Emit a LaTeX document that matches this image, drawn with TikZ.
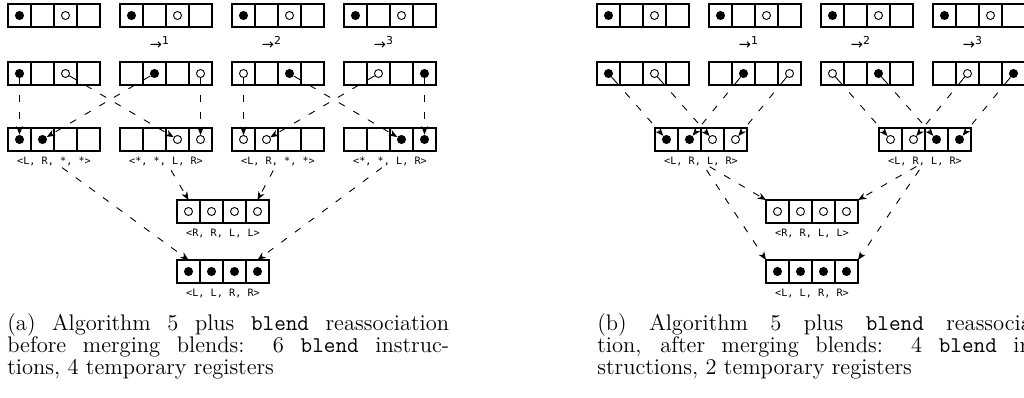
\documentclass[tikz,border=0pt]{standalone}
\usepackage{fontspec}
\usepackage{tikz}
\usetikzlibrary{positioning,arrows.meta}
\newfontfamily\lanefont{DejaVu Sans Mono}
\newfontfamily\shiftfont{DejaVu Sans}

\begin{document}
\begin{tikzpicture}[x=0.55pt,y=-0.55pt]
	\tikzset{cell/.style={draw, rectangle, minimum size=12.65pt, inner sep=0pt, outer sep=0pt, line width=0.6pt},
	         full/.style={circle, fill=black, minimum size=5pt, inner sep=0pt},
	         empty/.style={circle, draw, fill=white, line width=0.5pt, minimum size=4.4pt, inner sep=0pt},
	         move/.style={-{Stealth[length=4.6pt,width=3.6pt,inset=1.4pt]}, line width=0.5pt, dash pattern=on 3.8pt off 5.5pt, dash phase=3.8pt},
	         stem/.style={line width=0.5pt},
	         lane/.style={font=\lanefont\fontsize{5.6}{6}\selectfont, inner sep=1pt},
	         shiftlbl/.style={font=\shiftfont\fontsize{8}{9}\selectfont, inner sep=1pt},
	         caption/.style={anchor=north west, inner sep=0pt, text width=243pt, align=justify}}
	\useasboundingbox (0,0) rectangle (1024,398);
	\clip (0,0) rectangle (1024,398);

	% registers: name/left/top
	\foreach \r/\x/\y in {a1/8/4, a2/120/4, a3/232/4, a4/344/4,
	                      a5/8/62, a6/120/62, a7/232/62, a8/344/62,
	                      a9/8/128, a10/120/128, a11/232/128, a12/344/128,
	                      a13/177/200, a14/177/260,
	                      b1/597/4, b2/709/4, b3/821/4, b4/933/4,
	                      b5/597/62, b6/709/62, b7/821/62, b8/933/62,
	                      b9/655/128, b10/879/128,
	                      b11/766/200, b12/766/260}
	  \foreach \i in {0,...,3}
	    \node[cell] (\r-\i) at (\x+\i*23+11.5, \y+11.5) {};

	% elements
	\foreach \c in {a1-0, a2-0, a3-0, a4-0, a5-0, a6-1, a7-2, a8-3,
	                a9-0, a9-1, a12-2, a12-3, a14-0, a14-1, a14-2, a14-3,
	                b1-0, b2-0, b3-0, b4-0, b5-0, b6-1, b7-2, b8-3,
	                b9-0, b9-1, b10-2, b10-3, b12-0, b12-1, b12-2, b12-3}
	  \node[full] (d\c) at (\c) {};
	\foreach \c in {a1-2, a2-2, a3-2, a4-2, a5-2, a6-3, a7-0, a8-1,
	                a10-2, a10-3, a11-0, a11-1, a13-0, a13-1, a13-2, a13-3,
	                b1-2, b2-2, b3-2, b4-2, b5-2, b6-3, b7-0, b8-1,
	                b9-2, b9-3, b10-0, b10-1, b11-0, b11-1, b11-2, b11-3}
	  \node[empty] (d\c) at (\c) {};

	% shift amounts
	\foreach \r/\k in {a2/1, a3/2, a4/3, b2/1, b3/2, b4/3}
	  \node[shiftlbl, below=4pt of \r-1.south east, xshift=-3.3pt] {→\textsuperscript{\k}};

	% lane patterns
	\node[lane, below=2.2pt of a9-1.south east] (l9) {<L, R, *, *>};
	\node[lane, below=2.2pt of a10-1.south east] (l10) {<*, *, L, R>};
	\node[lane, below=2.2pt of a11-1.south east] (l11) {<L, R, *, *>};
	\node[lane, below=2.2pt of a12-1.south east] (l12) {<*, *, L, R>};
	\node[lane, below=2.2pt of a13-1.south east] {<R, R, L, L>};
	\node[lane, below=2.2pt of a14-1.south east] {<L, L, R, R>};
	\node[lane, below=2.2pt of b9-1.south east] (lb9) {<L, R, L, R>};
	\node[lane, below=2.2pt of b10-1.south east] (lb10) {<L, R, L, R>};
	\node[lane, below=2.2pt of b11-1.south east] {<R, R, L, L>};
	\node[lane, below=2.2pt of b12-1.south east] {<L, L, R, R>};

	% element moves
	\foreach \s/\t in {a5-0/a9-0, a6-1/a9-1, a5-2/a10-2, a6-3/a10-3,
	                   a7-0/a11-0, a8-1/a11-1, a7-2/a12-2, a8-3/a12-3,
	                   b5-0/b9-0, b6-1/b9-1, b5-2/b9-2, b6-3/b9-3,
	                   b7-0/b10-0, b8-1/b10-1, b7-2/b10-2, b8-3/b10-3} {
	  \draw[move] (\s) -- coordinate[pos=0] (st) (d\t);
	  \draw[stem] (d\s) -- (st);
	}

	% blends
	\draw[move] (l10.center) -- (a13-0.north);
	\draw[move] (l11.center) -- (a13-3.north);
	\draw[move] (l9.center) -- (a14-0.north);
	\draw[move] (l12.center) -- (a14-3.north);
	\draw[move] (lb9.center) -- (b11-0.north west);
	\draw[move] (lb10.center) -- (b11-3.north east);
	\draw[move] (lb9.center) -- (b12-0.north west);
	\draw[move] (lb10.center) -- (b12-3.north east);

	\node[caption] (capa) at (7,313) {\fontsize{12.4}{12.1}\selectfont (a) Algorithm 5 plus \texttt{blend} reassociation\linebreak before merging blends: 6 \texttt{blend} instruc-\linebreak tions, 4 temporary registers\par};
	\node[caption] (capb) at (597,313) {\fontsize{12.4}{12.1}\selectfont (b) Algorithm 5 plus \texttt{blend} reassocia-\linebreak tion, after merging blends: 4 \texttt{blend} in-\linebreak structions, 2 temporary registers\par};
\end{tikzpicture}
\end{document}
